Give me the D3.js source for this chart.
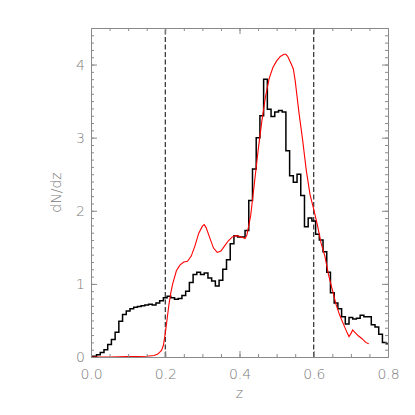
<!DOCTYPE html>
<html>
<head>
<meta charset="utf-8">
<script src="https://cdn.jsdelivr.net/npm/d3@7"></script>
<style>
  html, body { margin: 0; padding: 0; background: #fff; }
  svg text { font-family: "DejaVu Sans ExtraLight", "DejaVu Sans", sans-serif; font-weight: 200; fill: #7a7a7a; }
  .axis path, .axis line { stroke: #8a8a8a; }
</style>
</head>
<body>
<svg id="visualization" width="415" height="415"></svg>
<script>
// Data ////////////////////////////////////////////////////////////////////////////////////////////
var binWidth = 0.01;                                               // histogram bins centred on k*0.01
var histCenters = d3.range(0, 81).map(function(k) { return k * binWidth });
var histValues = [
  0.00, 0.01, 0.03, 0.06, 0.10, 0.17, 0.24, 0.34, 0.49, 0.58,
  0.63, 0.66, 0.68, 0.69, 0.70, 0.71, 0.72, 0.71, 0.74, 0.77,
  0.81, 0.83, 0.81, 0.79, 0.80, 0.84, 0.90, 1.02, 1.13, 1.16,
  1.13, 1.15, 1.08, 1.04, 0.97, 1.05, 1.20, 1.33, 1.55, 1.66,
  1.64, 1.64, 1.73, 2.14, 2.57, 3.00, 3.30, 3.80, 3.39, 3.29,
  3.35, 3.37, 3.35, 2.82, 2.48, 2.39, 2.50, 2.21, 1.78, 1.90,
  1.86, 1.68, 1.60, 1.44, 1.16, 0.88, 0.74, 0.66, 0.55, 0.45,
  0.54, 0.52, 0.53, 0.57, 0.55, 0.55, 0.44, 0.41, 0.31, 0.20,
  0.18
];
var modelZ = [
  0.00, 0.05, 0.10, 0.15, 0.17, 0.18, 0.19, 0.195, 0.20, 0.205,
  0.21, 0.215, 0.22, 0.23, 0.24, 0.25, 0.26, 0.27, 0.28, 0.29,
  0.30, 0.305, 0.31, 0.32, 0.33, 0.34, 0.35, 0.36, 0.37, 0.38,
  0.39, 0.40, 0.41, 0.415, 0.42, 0.43, 0.44, 0.45, 0.46, 0.47,
  0.48, 0.49, 0.50, 0.51, 0.52, 0.525, 0.53, 0.54, 0.545, 0.55,
  0.56, 0.57, 0.58, 0.59, 0.60, 0.61, 0.62, 0.63, 0.64, 0.65,
  0.66, 0.67, 0.68, 0.69, 0.695, 0.70, 0.705, 0.71, 0.72, 0.73,
  0.74, 0.748
];
var modelValues = [
  0.00, 0.00, 0.005, 0.01, 0.02, 0.04, 0.09, 0.16, 0.32, 0.52,
  0.72, 0.88, 1.00, 1.18, 1.26, 1.30, 1.31, 1.38, 1.52, 1.69,
  1.79, 1.81, 1.77, 1.63, 1.49, 1.43, 1.45, 1.52, 1.59, 1.64,
  1.66, 1.65, 1.63, 1.62, 1.67, 1.93, 2.37, 2.82, 3.22, 3.56,
  3.81, 3.96, 4.05, 4.11, 4.14, 4.14, 4.11, 4.00, 3.94, 3.78,
  3.35, 2.97, 2.55, 2.22, 2.02, 1.80, 1.55, 1.38, 1.12, 0.92,
  0.72, 0.57, 0.45, 0.33, 0.28, 0.32, 0.37, 0.34, 0.29, 0.25,
  0.20, 0.18
];
var markerZ = [0.2, 0.6];                                             // dashed vertical markers
var xTicks = [0, 0.2, 0.4, 0.6, 0.8];
var yTicks = [0, 1, 2, 3, 4];

(function() {
  "use strict";
  // Geometry and scales ///////////////////////////////////////////////////////////////////////////
  var vis = d3.select('#visualization'),
      left = 91, right = 388, plotTop = 28, bottom = 357;

  var scale_x = d3.scaleLinear().domain([0, 0.8]).range([left, right]);
  var scale_y = d3.scaleLinear().domain([0, 4.5]).range([bottom, plotTop]);

  vis.append('clipPath').attr('id', 'clip_inner').append('rect')
    .attr('x', left).attr('y', plotTop).attr('width', right - left).attr('height', bottom - plotTop);

  var interior = vis.append('g').attr('clip-path', 'url(#clip_inner)');

  // Marker lines //////////////////////////////////////////////////////////////////////////////////
  interior.selectAll('.marker').data(markerZ).enter().append('line')
    .attr('class', 'marker')
    .attr('x1', function(d) { return scale_x(d) }).attr('x2', function(d) { return scale_x(d) })
    .attr('y1', bottom).attr('y2', plotTop)
    .style('stroke', '#000').style('stroke-width', 1).style('stroke-dasharray', '5,2.5');

  // Histogram as steps ////////////////////////////////////////////////////////////////////////////
  var steps = [];
  histCenters.forEach(function(c, i) {
    steps.push([c - binWidth / 2, histValues[i]]);
    steps.push([c + binWidth / 2, histValues[i]]);
  });
  var line = d3.line()
    .x(function(d) { return scale_x(d[0]) })
    .y(function(d) { return scale_y(d[1]) });
  interior.append('path').datum(steps)
    .attr('d', line)
    .style('fill', 'none').style('stroke', '#000').style('stroke-width', 1.5);

  // Model curve ///////////////////////////////////////////////////////////////////////////////////
  interior.append('path').datum(modelZ.map(function(z, i) { return [z, modelValues[i]] }))
    .attr('d', line)
    .style('fill', 'none').style('stroke', '#ff0000').style('stroke-width', 1.1);

  // Axes //////////////////////////////////////////////////////////////////////////////////////////
  function addAxis(axis, tx, ty, labels) {
    var g = vis.append('g').attr('class', 'axis')
      .attr('transform', 'translate(' + tx + ',' + ty + ')').call(axis);
    g.selectAll('text').style('font-size', '14px');
    if (!labels) g.selectAll('text').remove();
    g.select('.domain').attr('stroke', '#8a8a8a');
    return g;
  }
  var xMinor = d3.range(0, 0.8001, 0.05), yMinor = d3.range(0, 4.5001, 0.1);

  addAxis(d3.axisBottom(scale_x).tickValues(xMinor).tickSize(-3).tickSizeOuter(0), 0, bottom, false);
  addAxis(d3.axisBottom(scale_x).tickValues(xTicks).tickSizeInner(-6).tickSizeOuter(0).tickPadding(12)
    .tickFormat(d3.format('.1f')), 0, bottom, true);
  addAxis(d3.axisTop(scale_x).tickValues(xMinor).tickSize(-3).tickSizeOuter(0), 0, plotTop, false);
  addAxis(d3.axisTop(scale_x).tickValues(xTicks).tickSize(-6).tickSizeOuter(0), 0, plotTop, false);

  addAxis(d3.axisLeft(scale_y).tickValues(yMinor).tickSize(-3).tickSizeOuter(0), left, 0, false);
  addAxis(d3.axisLeft(scale_y).tickValues(yTicks).tickSizeInner(-6).tickSizeOuter(0).tickPadding(6)
    .tickFormat(d3.format('d')), left, 0, true);
  addAxis(d3.axisRight(scale_y).tickValues(yMinor).tickSize(-3).tickSizeOuter(0), right, 0, false);
  addAxis(d3.axisRight(scale_y).tickValues(yTicks).tickSize(-6).tickSizeOuter(0), right, 0, false);

  // Titles ////////////////////////////////////////////////////////////////////////////////////////
  vis.append('text').attr('x', (left + right) / 2).attr('y', 398)
    .attr('text-anchor', 'middle').style('font-size', '14px').text('z');
  vis.append('text').attr('transform', 'translate(61,' + (plotTop + bottom) / 2 + ') rotate(-90)')
    .attr('text-anchor', 'middle').style('font-size', '14px').text('dN/dz');
})();
</script>
</body>
</html>
